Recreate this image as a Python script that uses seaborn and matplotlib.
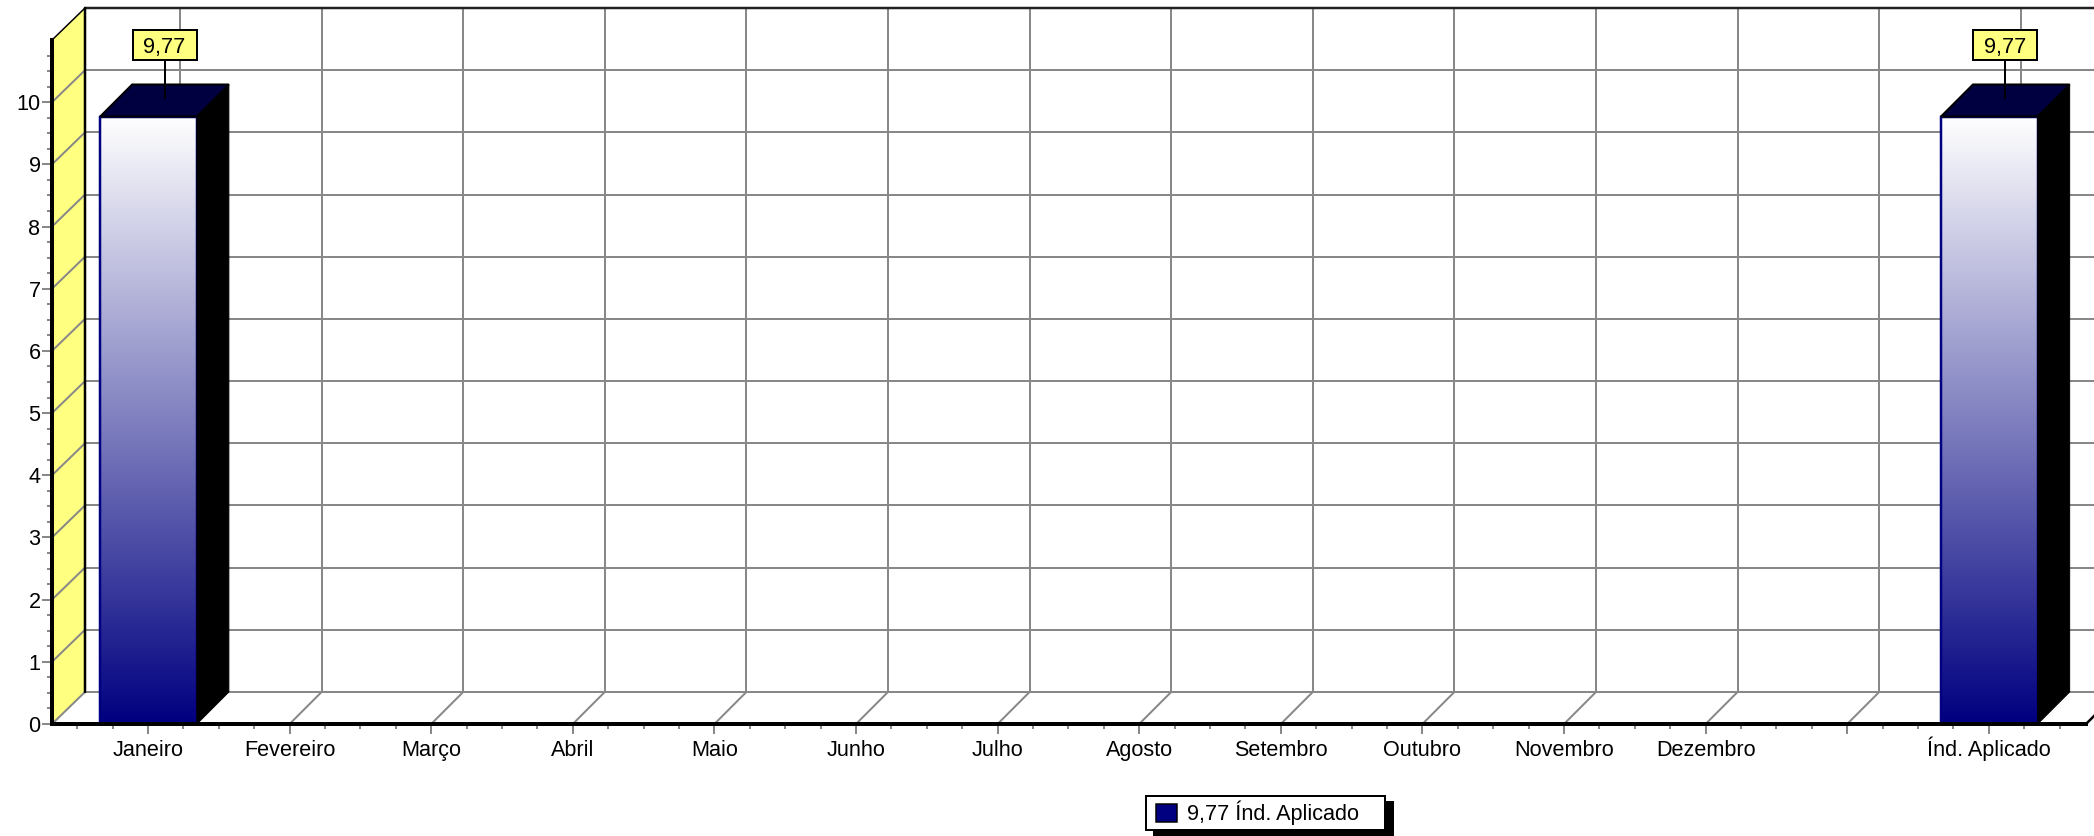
import numpy as np
import matplotlib
matplotlib.use('Agg')
import matplotlib.pyplot as plt
import seaborn as sns
from matplotlib.colors import LinearSegmentedColormap
from matplotlib.legend_handler import HandlerPatch
from matplotlib.patches import Patch, Polygon, Rectangle
from matplotlib.ticker import FixedLocator, NullFormatter
from matplotlib.transforms import Affine2D

# values
categories = ['Janeiro', 'Fevereiro', 'Março', 'Abril', 'Maio', 'Junho', 'Julho',
              'Agosto', 'Setembro', 'Outubro', 'Novembro', 'Dezembro', ' ', 'Índ. Aplicado']
values = [9.77, np.nan, np.nan, np.nan, np.nan, np.nan, np.nan,
          np.nan, np.nan, np.nan, np.nan, np.nan, np.nan, 9.77]
value_labels = ['9,77', '9,77']
legend_label = '9,77 Índ. Aplicado'
y_ticks = [0, 1, 2, 3, 4, 5, 6, 7, 8, 9, 10]
y_max = 11

sns.set_theme(style='white')
plt.rcParams['font.family'] = ['Liberation Sans', 'DejaVu Sans']

W, H = 2094, 836
NAVY = '#000080'
YELLOW = '#FFFF80'
GREY = '#888888'
FS = 15.6
px = 0.72  # one pixel in points

fig = plt.figure(figsize=(W / 100, H / 100), dpi=100, facecolor='white')
ax = fig.add_axes([52 / W, (H - 724) / H, 2034 / W, 716 / H])
ax.patch.set_visible(False)

sns.barplot(x=categories, y=values, color=NAVY, width=0.69, ax=ax, zorder=4)

# 3D offset of the back wall in data units
dx = 32 / 141.6
dy = 32 / 62.1
x0, x1 = -96 / 141.6, 1938 / 141.6
x_back = x0 + 33 / 141.6
ax.set_xlim(x0, x1)
ax.set_ylim(0, y_max + dy)
x_far = x1 + 2 * dx

# left wall
ax.add_patch(Polygon([(x0, 0), (x0, y_max), (x_back, y_max + dy), (x_back, dy)],
                     fc=YELLOW, ec='none', zorder=1, clip_on=False))

# grid on wall and floor
for y in y_ticks:
    ax.plot([x0, x_back], [y, y + dy], color=GREY, lw=2 * px, zorder=2, clip_on=False)
    ax.plot([x_back, x_far], [y + dy, y + dy], color=GREY, lw=2 * px, zorder=2, clip_on=False)
for i in range(len(categories)):
    ax.plot([i, i + dx], [0, dy], color=GREY, lw=2 * px, zorder=2)
    ax.plot([i + dx, i + dx], [dy, y_max + dy], color=GREY, lw=2 * px, zorder=2, clip_on=False)

ax.plot([x_back, x_far], [y_max + dy, y_max + dy], color='#222222', lw=2.5 * px, zorder=2.5, clip_on=False)
ax.plot([x_back, x_back], [dy, y_max + dy], color='black', lw=2.5 * px, zorder=2.5, clip_on=False)
ax.plot([x0, x_back], [y_max, y_max + dy], color='black', lw=1.5 * px, zorder=2.5, clip_on=False)
ax.plot([x1, x_far], [0, 2 * dy], color='black', lw=2.5 * px, zorder=2.5, clip_on=False)

# bars: gradient front, dark top, black side
grad = np.linspace(0, 1, 256).reshape(-1, 1)
cmap = LinearSegmentedColormap.from_list('bar', ['white', NAVY])
bars = [b for b in ax.patches if isinstance(b, Rectangle) and b.get_height() > 0]
for bar, txt in zip(bars, value_labels):
    bar.set_x(bar.get_x() + 1 / 141.6)
    bar.set_width(bar.get_width() - 1 / 141.6)
    left, w, h = bar.get_x(), bar.get_width(), bar.get_height()
    ax.imshow(grad, cmap=cmap, extent=(left, left + w, 0, h), aspect='auto', zorder=3.5)
    bar.set_facecolor('none')
    bar.set_edgecolor(NAVY)
    bar.set_linewidth(2.5 * px)
    ax.add_patch(Polygon([(left + w, 0), (left + w + dx, dy), (left + w + dx, h + dy), (left + w, h)],
                         fc='black', ec='black', lw=1 * px, zorder=5))
    ax.add_patch(Polygon([(left, h), (left + dx, h + dy), (left + w + dx, h + dy), (left + w, h)],
                         fc='#000040', ec='black', lw=2 * px, zorder=5, clip_on=False))
    # value callout
    mid = left + w / 2 + dx / 2
    ax.set_xlim(x0, x1)
    ax.set_ylim(0, y_max + dy)
    ax_x, ax_y = ax.transData.transform((mid, h + dy / 2))
    at = Affine2D().translate(ax_x, ax_y)
    ax.add_line(plt.Line2D([0, 0], [2, 40], transform=at, color='black', lw=2 * px, zorder=6, clip_on=False))
    ax.add_patch(Rectangle((-32, 40), 64, 30, transform=at, fc=YELLOW, ec='black',
                           lw=2 * px, zorder=6, clip_on=False))
    ax.text(0, 55, txt, transform=at, ha='center', va='center_baseline', fontsize=FS,
            color='black', zorder=7, clip_on=False)

ax.set_xlim(x0, x1)
ax.set_ylim(0, y_max + dy)

# axes and ticks
for side in ['top', 'right']:
    ax.spines[side].set_visible(False)
for side in ['left', 'bottom']:
    ax.spines[side].set_color('black')
    ax.spines[side].set_linewidth(4 * px)
    ax.spines[side].set_zorder(6)
ax.spines['left'].set_bounds(0, y_max)

ax.yaxis.set_major_locator(FixedLocator(y_ticks))
ax.yaxis.set_minor_locator(FixedLocator(np.arange(0, y_max, 0.25)))
ax.xaxis.set_minor_locator(FixedLocator(np.arange(-0.5, x1, 0.25)))
ax.yaxis.set_minor_formatter(NullFormatter())
ax.xaxis.set_minor_formatter(NullFormatter())
ax.tick_params(axis='both', which='major', length=10 * px, width=2 * px, color=GREY,
               labelsize=FS, labelcolor='black', left=True, bottom=True)
ax.tick_params(axis='both', which='minor', length=5 * px, width=2 * px, color=GREY, left=True, bottom=True)
ax.tick_params(axis='y', which='major', pad=1)
ax.tick_params(axis='x', which='major', pad=15.8)
plt.setp(ax.get_xticklabels(), va='baseline')
ax.set_xlabel('')
ax.set_ylabel('')


def swatch(legend, orig_handle, xdescent, ydescent, width, height, fontsize):
    return Rectangle((5 * px - xdescent, -ydescent), 21 * px, height)


# legend with hard shadow
leg = ax.legend(handles=[Patch(fc=NAVY, ec='black', lw=1.5 * px, label=legend_label)],
                handler_map={Patch: HandlerPatch(patch_func=swatch)},
                loc='upper left', bbox_to_anchor=(1146 / W, 1 - 830 / H, 239 / W, 34 / H),
                bbox_transform=fig.transFigure, mode='expand', labelcolor='black',
                borderaxespad=0, fancybox=False, framealpha=1, edgecolor='black', fontsize=FS,
                handlelength=1.2, handleheight=0.9, handletextpad=0.46, borderpad=0.22,
                shadow={'ox': 8 * px, 'oy': -6 * px, 'color': 'black', 'alpha': 1})
leg.get_frame().set_linewidth(2 * px)
leg.set_zorder(10)

fig.savefig('out.png', dpi=100)
